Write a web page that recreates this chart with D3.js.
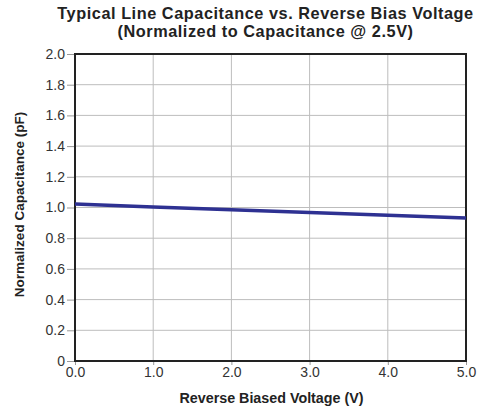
<!DOCTYPE html>
<html><head><meta charset="utf-8">
<script src="https://cdn.jsdelivr.net/npm/d3@7"></script>
<style>body{margin:0;background:#fff}svg{display:block;font-family:"Liberation Sans",Arial,sans-serif}</style>
</head><body><svg id="c" width="481" height="412"></svg>
<script>
const voltages = [0, 1, 2, 3, 4, 5];
const capacitance = [1.022, 1.003, 0.985, 0.968, 0.95, 0.931];
const xTicks = [0, 1, 2, 3, 4, 5];
const yTicks = [0, 0.2, 0.4, 0.6, 0.8, 1.0, 1.2, 1.4, 1.6, 1.8, 2.0];
const titleLines = ["Typical Line Capacitance vs. Reverse Bias Voltage", "(Normalized to Capacitance @ 2.5V)"];

const svg = d3.select("#c");
const L = 75, R = 466, T = 54, B = 361;
const x = d3.scaleLinear().domain([0, 5]).range([L, R]);
const y = d3.scaleLinear().domain([0, 2]).range([B, T]);

// grid
svg.append("g").selectAll("line").data(xTicks.slice(1, -1)).join("line")
  .attr("x1", d => x(d)).attr("x2", d => x(d)).attr("y1", T).attr("y2", B)
  .attr("stroke", "#bdbdbd").attr("stroke-width", 1);
svg.append("g").selectAll("line").data(yTicks.slice(1, -1)).join("line")
  .attr("x1", L).attr("x2", R).attr("y1", d => y(d)).attr("y2", d => y(d))
  .attr("stroke", "#bdbdbd").attr("stroke-width", 1);

// axes
const yAxis = d3.axisLeft(y).tickValues(yTicks).tickSize(8).tickPadding(2)
  .tickFormat(d => d === 0 ? "0" : d3.format(".1f")(d));
const gy = svg.append("g").attr("transform", `translate(${L},0)`).call(yAxis);
gy.select(".domain").remove();
gy.selectAll("line").attr("stroke", "#999");
gy.selectAll("text").attr("font-size", 14).attr("fill", "#333");

const xAxis = d3.axisBottom(x).tickValues(xTicks).tickSize(4).tickPadding(2)
  .tickFormat(d3.format(".1f"));
const gx = svg.append("g").attr("transform", `translate(0,${B})`).call(xAxis);
gx.select(".domain").remove();
gx.selectAll("line").attr("stroke", "#999");
gx.selectAll("text").attr("font-size", 14).attr("fill", "#333");

// frame
svg.append("rect").attr("x", L).attr("y", T).attr("width", R - L).attr("height", B - T)
  .attr("fill", "none").attr("stroke", "#222").attr("stroke-width", 2);

// data line
const line = d3.line().x((d, i) => x(voltages[i])).y(d => y(d));
svg.append("path").datum(capacitance).attr("d", line)
  .attr("fill", "none").attr("stroke", "#2e3192").attr("stroke-width", 3.5);

// titles
svg.append("g").selectAll("text").data(titleLines).join("text")
  .attr("x", 265.5).attr("y", (d, i) => 19 + i * 17.5)
  .attr("text-anchor", "middle").attr("font-size", 16.3).attr("letter-spacing", 0.55)
  .attr("font-weight", "bold").attr("fill", "#222")
  .text(d => d);

svg.append("text").attr("x", 271.5).attr("y", 403).attr("text-anchor", "middle")
  .attr("font-size", 14.3).attr("font-weight", "bold").attr("fill", "#222").text("Reverse Biased Voltage (V)");
svg.append("text").attr("transform", `translate(24,204.5) rotate(-90)`).attr("text-anchor", "middle")
  .attr("font-size", 13.5).attr("font-weight", "bold").attr("fill", "#222").text("Normalized Capacitance (pF)");
</script></body></html>
